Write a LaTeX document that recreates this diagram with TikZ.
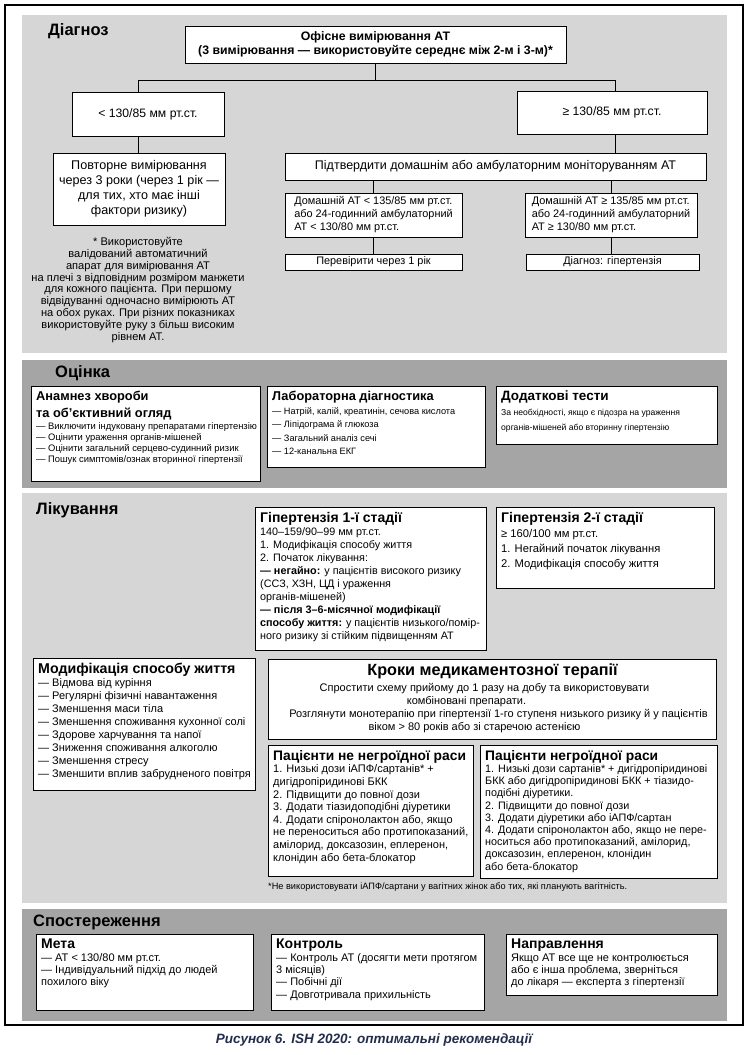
\documentclass[tikz,border=0pt]{standalone}
\usepackage{fontspec}
\setmainfont{Liberation Sans}
\definecolor{lightpanel}{RGB}{214,214,214}
\definecolor{darkpanel}{RGB}{165,165,165}
\definecolor{capcol}{RGB}{35,45,75}
\newcommand\fsz[2]{\fontsize{#1}{#2}\selectfont}
\newcommand\infobox[7]{%
  \node[frame, minimum width=#4pt, minimum height=#5pt, anchor=north west] (#1) at (#2,#3) {};
  \node[txt, anchor=north west, font=#6] (#1-t) at ([xshift=5pt,yshift=-5pt]#1.north west) {#7};
}
\begin{document}
\begin{tikzpicture}[x=1pt,y=-1pt,
  frame/.style={draw=black, line width=1pt, fill=white, inner sep=0pt},
  txt/.style={inner sep=0pt, align=left},
  conn/.style={draw=black, line width=1pt},
  sect/.style={inner sep=0pt, anchor=west, font=\fsz{16.5}{18}\bfseries}]
\useasboundingbox (0,0) rectangle (748,1055);
\fill[white] (0,0) rectangle (748,1055);
\draw[line width=1.2pt] (5,5) rectangle (743,1025);

% ---------- Diagnosis ----------
\fill[lightpanel] (22,15) rectangle (727,353);
\node[sect] (t-diag) at (48,31) {Діагноз};
\node[frame, minimum width=381pt, minimum height=37pt, font=\fsz{12.3}{14.5}\bfseries, align=center] (office) at (375.5,44.5)
  {Офісне вимірювання АТ\\(3 вимірювання — використовуйте середнє між 2-м і 3-м)*};
\node[frame, minimum width=152pt, minimum height=44pt, font=\fsz{12.2}{14}] (low) at (148,114) {< 130/85 мм рт.ст.};
\node[frame, minimum width=190pt, minimum height=43pt, font=\fsz{12.2}{14}] (high) at (612,112.5) {≥ 130/85 мм рт.ст.};
\node[frame, minimum width=172pt, minimum height=72pt, font=\fsz{12.6}{15}, align=center] (rep) at (139,189)
  {Повторне вимірювання\\через 3 роки (через 1 рік —\\для тих, хто має інші\\фактори ризику)};
\node[frame, minimum width=421pt, minimum height=27pt, font=\fsz{12.5}{14}] (conf) at (495.5,166.5)
  {Підтвердити домашнім або амбулаторним моніторуванням АТ};
\node[frame, minimum width=177pt, minimum height=44pt, font=\fsz{10.9}{13}, align=left] (home1) at (373.5,215)
  {Домашній АТ < 135/85 мм рт.ст.\\або 24-годинний амбулаторний\\АТ < 130/80 мм рт.ст.};
\node[frame, minimum width=172pt, minimum height=44pt, font=\fsz{10.9}{13}, align=left] (home2) at (611,215)
  {Домашній АТ ≥ 135/85 мм рт.ст.\\або 24-годинний амбулаторний\\АТ ≥ 130/80 мм рт.ст.};
\node[frame, minimum width=177pt, minimum height=16pt, font=\fsz{10.9}{12}] (chk) at (373.5,262) {Перевірити через 1 рік};
\node[frame, minimum width=173pt, minimum height=16pt, font=\fsz{10.9}{12}] (dg) at (612.5,262) {Діагноз: гіпертензія};
\node[txt, align=center, font=\fsz{11.1}{11.8}] (note1) at (138,290)
  {* Використовуйте\\валідований автоматичний\\апарат для вимірювання АТ\\на плечі з відповідним розміром манжети\\для кожного пацієнта. При першому\\відвідуванні одночасно вимірюють АТ\\на обох руках. При різних показниках\\використовуйте руку з більш високим\\рівнем АТ.};
\coordinate (jl) at (138,80);
\coordinate (jr) at (615,80);
\draw[conn] (office.south) -- (office.south |- jl);
\draw[conn] (jl |- low.north) -- (jl) -- (jr) -- (jr |- high.north);
\draw[conn] (low.south -| jl) -- (rep.north -| jl);
\draw[conn] (high.south -| jr) -- (conf.north -| jr);
\draw[conn] (home1.north) -- (home1.north |- conf.south);
\draw[conn] (home2.north) -- (home2.north |- conf.south);
\draw[conn] (home1.south) -- (chk.north);
\draw[conn] (home2.south) -- (home2.south |- dg.north);

% ---------- Assessment ----------
\fill[darkpanel] (22,360) rectangle (727,488);
\node[sect] (t-ass) at (55,373) {Оцінка};
\infobox{anam}{31}{386}{229}{95}{\fsz{9.4}{11}}
  {{\fsz{12.8}{15}\bfseries Анамнез хвороби}\\[4pt]{\fsz{12.8}{15}\bfseries та об'єктивний огляд}\\[1pt]— Виключити індуковану препаратами гіпертензію\\— Оцінити ураження органів-мішеней\\— Оцінити загальний серцево-судинний ризик\\— Пошук симптомів/ознак вторинної гіпертензії}
\infobox{lab}{267}{386}{218}{81}{\fsz{9.2}{13.5}}
  {{\fsz{12.8}{15}\bfseries Лабораторна діагностика}\\— Натрій, калій, креатинін, сечова кислота\\— Ліпідограма й глюкоза\\— Загальний аналіз сечі\\— 12-канальна ЕКГ}
\infobox{dod}{496}{386}{221}{58}{\fsz{8.6}{15}}
  {{\fsz{13.5}{15}\bfseries Додаткові тести}\\За необхідності, якщо є підозра на ураження\\органів-мішеней або вторинну гіпертензію}

% ---------- Treatment ----------
\fill[lightpanel] (22,493) rectangle (727,903);
\node[sect] (t-tr) at (36,510) {Лікування};
\infobox{hyp1}{255}{507}{231}{143}{\fsz{10.8}{13}}
  {{\fsz{14}{15}\bfseries Гіпертензія 1-ї стадії}\\140–159/90–99 мм рт.ст.\\1. Модифікація способу життя\\2. Початок лікування:\\\textbf{— негайно:} у пацієнтів високого ризику\\(ССЗ, ХЗН, ЦД і ураження\\органів-мішеней)\\\textbf{— після 3–6-місячної модифікації}\\\textbf{способу життя:} у пацієнтів низького/помір-\\ного ризику зі стійким підвищенням АТ}
\infobox{hyp2}{496}{507}{218}{81}{\fsz{11.2}{15}}
  {{\fsz{14}{15}\bfseries Гіпертензія 2-ї стадії}\\≥ 160/100 мм рт.ст.\\1. Негайний початок лікування\\2. Модифікація способу життя}
\infobox{mod}{33}{658}{222}{132}{\fsz{11}{13}}
  {{\fsz{14.2}{16}\bfseries Модифікація способу життя}\\— Відмова від куріння\\— Регулярні фізичні навантаження\\— Зменшення маси тіла\\— Зменшення споживання кухонної солі\\— Здорове харчування та напої\\— Зниження споживання алкоголю\\— Зменшення стресу\\— Зменшити вплив забрудненого повітря}
\node[frame, minimum width=448pt, minimum height=80pt, anchor=north west] (steps) at (268,659) {};
\node[txt, align=center, anchor=north, font=\fsz{11}{13}] (steps-t) at ([yshift=-5pt]steps.north)
  {{\fsz{16.2}{20}\bfseries Кроки медикаментозної терапії}\\[3pt]Спростити схему прийому до 1 разу на добу та використовувати\rule{16pt}{0pt}\\комбіновані препарати.\rule{52pt}{0pt}\\\rule{12pt}{0pt}Розглянути монотерапію при гіпертензії 1-го ступеня низького ризику й у пацієнтів\\віком > 80 років або зі старечою астенією\rule{36pt}{0pt}};
\infobox{pnn}{268}{745}{205}{131}{\fsz{11}{12.6}}
  {{\fsz{13.8}{16}\bfseries Пацієнти не негроїдної раси}\\1. Низькі дози іАПФ/сартанів* +\\дигідропіридинові БКК\\2. Підвищити до повної дози\\3. Додати тіазидоподібні діуретики\\4. Додати спіронолактон або, якщо\\не переноситься або протипоказаний,\\амілорид, доксазозин, еплеренон,\\клонідин або бета-блокатор}
\infobox{pn}{480}{745}{237}{133}{\fsz{10.8}{12.2}}
  {{\fsz{13.8}{16}\bfseries Пацієнти негроїдної раси}\\1. Низькі дози сартанів* + дигідропіридинові\\БКК або дигідропіридинові БКК + тіазидо-\\подібні діуретики.\\2. Підвищити до повної дози\\3. Додати діуретики або іАПФ/сартан\\4. Додати спіронолактон або, якщо не пере-\\носиться або протипоказаний, амілорид,\\доксазозин, еплеренон, клонідин\\або бета-блокатор}
\node[txt, anchor=west, font=\fsz{9.2}{10}] (note2) at (268,887)
  {*Не використовувати іАПФ/сартани у вагітних жінок або тих, які планують вагітність.};

% ---------- Follow-up ----------
\fill[darkpanel] (22,909) rectangle (727,1021);
\node[sect] (t-fu) at (33,922) {Спостереження};
\infobox{meta}{36}{934}{217}{76}{\fsz{11}{12.3}}
  {{\fsz{14}{16}\bfseries Мета}\\— АТ < 130/80 мм рт.ст.\\— Індивідуальний підхід до людей\\похилого віку}
\infobox{ctrl}{271}{934}{213}{76}{\fsz{11}{12.3}}
  {{\fsz{14}{16}\bfseries Контроль}\\— Контроль АТ (досягти мети протягом\\3 місяців)\\— Побічні дії\\— Довготривала прихильність}
\infobox{napr}{506}{934}{211}{61}{\fsz{11}{12.3}}
  {{\fsz{14}{16}\bfseries Направлення}\\Якщо АТ все ще не контролюється\\або є інша проблема, зверніться\\до лікаря — експерта з гіпертензії}

\node[txt, font=\fsz{13.5}{15}\bfseries\itshape, text=capcol] (cap) at (374,1040)
  {Рисунок 6. ISH 2020: оптимальні рекомендації};
\end{tikzpicture}
\end{document}
